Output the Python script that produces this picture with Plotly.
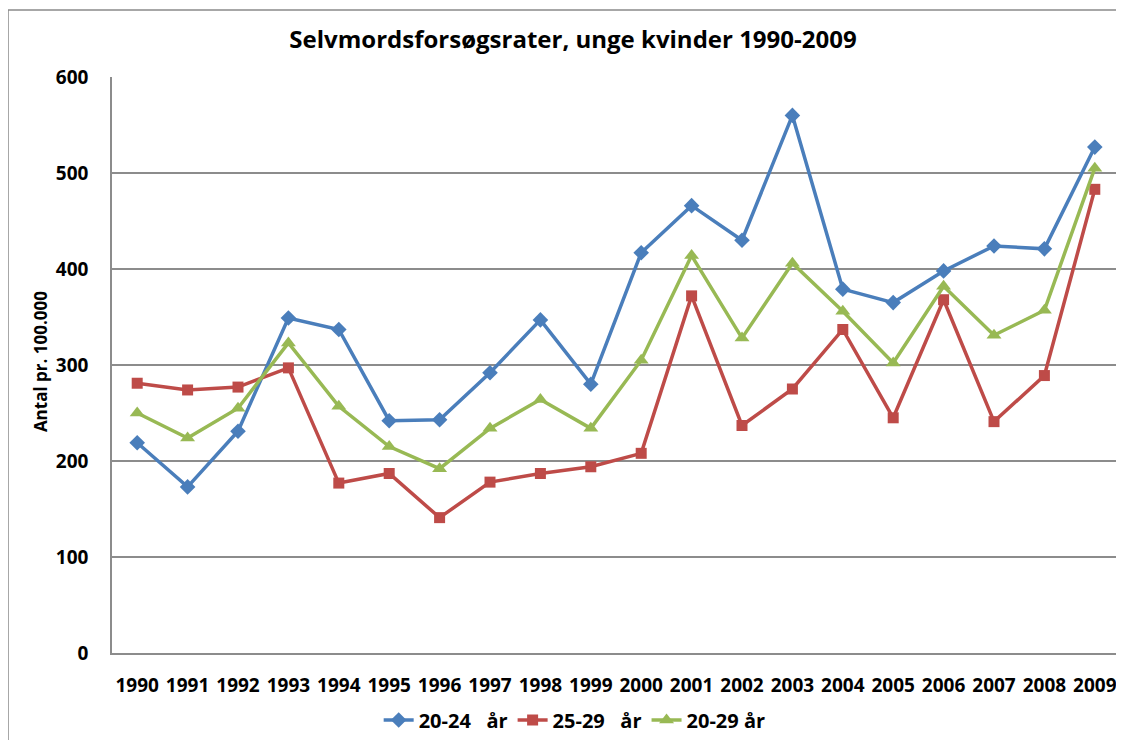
import plotly.graph_objects as go

years = [str(y) for y in range(1990, 2010)]

rate_20_24 = [219, 173, 231, 349, 337, 242, 243, 292, 347, 280,
              417, 466, 430, 560, 379, 365, 398, 424, 421, 527]
rate_25_29 = [281, 274, 277, 297, 177, 187, 141, 178, 187, 194,
              208, 372, 237, 275, 337, 245, 368, 241, 289, 483]
rate_20_29 = [250, 224, 255, 323, 257, 215, 192, 234, 264, 234,
              305, 414, 328, 406, 356, 302, 382, 331, 357, 505]

series_names = ["20-24\u00a0\u00a0\u00a0år", "25-29\u00a0\u00a0\u00a0år", "20-29 år"]
y_ticks = [0, 100, 200, 300, 400, 500, 600]

FONT = "Open Sans"
GRID = "#8c8c8c"
W, H = 1116, 732  # page body adds an 8px offset

fig = go.Figure()
fig.add_trace(go.Scatter(
    x=years, y=rate_20_24, name=series_names[0], mode="lines+markers",
    line=dict(color="#4A7EBB", width=3.5),
    marker=dict(symbol="diamond", size=12, color="#4A7EBB")))
fig.add_trace(go.Scatter(
    x=years, y=rate_25_29, name=series_names[1], mode="lines+markers",
    line=dict(color="#BE4B48", width=3.5),
    marker=dict(symbol="square", size=11, color="#BE4B48")))
fig.add_trace(go.Scatter(
    x=years, y=rate_20_29, name=series_names[2], mode="lines+markers",
    line=dict(color="#98B954", width=3.5),
    marker=dict(symbol="triangle-up", size=13, color="#98B954")))

fig.update_layout(
    width=W, height=H,
    margin=dict(l=104, r=4, t=69, b=87, autoexpand=False),
    paper_bgcolor="white", plot_bgcolor="white",
    font=dict(family=FONT, color="black", weight="bold"),
    title=dict(text="Selvmordsforsøgsrater, unge kvinder 1990-2009",
               x=565 / W, xanchor="center", y=1 - 32 / H, yanchor="middle",
               font=dict(family=FONT, size=24, color="black", weight="bold")),
    xaxis=dict(type="category", range=[-0.5, 19.5], automargin=False,
               showgrid=False, showline=True, linecolor=GRID, linewidth=1.5,
               ticks="outside", ticklen=14, tickcolor="rgba(0,0,0,0)",
               tickfont=dict(family=FONT, size=19, color="black", weight="bold"),
               zeroline=False),
    yaxis=dict(range=[0, 600], tickvals=y_ticks, automargin=False,
               showgrid=True, gridcolor=GRID, gridwidth=1.5,
               showline=True, linecolor=GRID, linewidth=1.5,
               ticks="outside", ticklen=18, tickcolor="rgba(0,0,0,0)",
               tickfont=dict(family=FONT, size=19, color="black", weight="bold"),
               zeroline=False),
    legend=dict(orientation="h", x=0.459, xanchor="center",
                y=(653 - 720) / 576, yanchor="middle",
                font=dict(family=FONT, size=20, color="black", weight="bold"),
                itemwidth=30, traceorder="normal"),
    showlegend=True,
)

fig.add_annotation(text="Antal pr. 100.000", textangle=-90,
                   xref="paper", yref="paper", x=(40 - 112) / 1008, y=0.505,
                   xanchor="center", yanchor="middle", showarrow=False,
                   font=dict(family=FONT, size=17, color="black", weight="bold"))

# chart outer border
fig.add_shape(type="rect", xref="paper", yref="paper",
              x0=(8 - 112) / 1008, x1=(1130 - 112) / 1008,
              y0=(653 - 750) / 576, y1=(653 - 10) / 576,
              line=dict(color="#8a8a8a", width=1.5), fillcolor="rgba(0,0,0,0)",
              layer="below")

fig.write_html("out.html")
